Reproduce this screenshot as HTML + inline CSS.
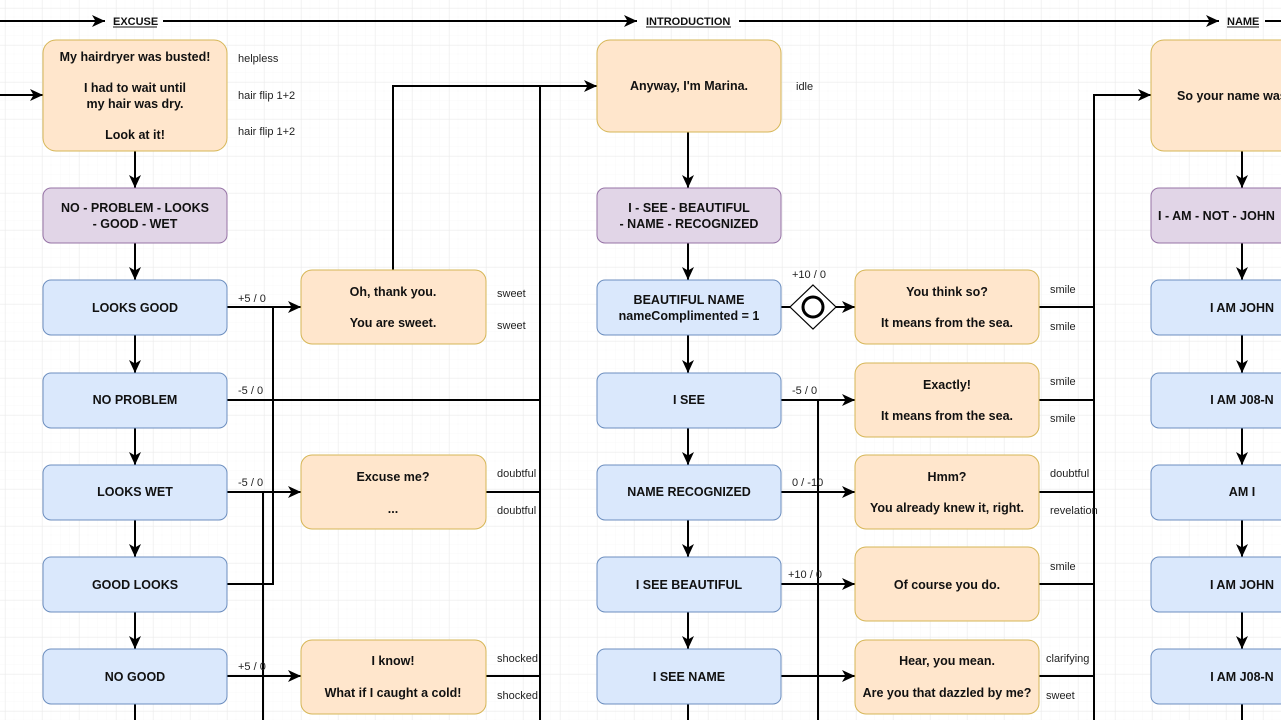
<!DOCTYPE html>
<html><head><meta charset="utf-8">
<style>
html,body{margin:0;padding:0;background:#fff;overflow:hidden}
svg{display:block}
text{font-family:"Liberation Sans",Arial,sans-serif}
.b{font-weight:bold;font-size:12.5px;fill:#111;text-anchor:middle}
.l{font-size:11px;fill:#222}
.lb{font-size:11px;fill:#111;font-weight:bold}
.o{fill:#ffe6cc;stroke:#d6b656;stroke-width:1}
.p{fill:#e1d5e7;stroke:#9673a6;stroke-width:1}
.u{fill:#dae8fc;stroke:#6c8ebf;stroke-width:1}
.c{fill:none;stroke:#000;stroke-width:2}
</style></head><body>
<svg width="1281" height="720" viewBox="0 0 1281 720" xmlns="http://www.w3.org/2000/svg">
<defs>
<pattern id="mi" width="9.25" height="9.25" patternUnits="userSpaceOnUse" x="5" y="8">
<path d="M9.25 0V9.25M0 9.25H9.25" stroke="#f8f8f8" stroke-width="1" fill="none"/></pattern>
<pattern id="ma" width="37" height="37" patternUnits="userSpaceOnUse" x="5" y="8">
<path d="M0 0V37M0 0H37" stroke="#ebebeb" stroke-width="1" fill="none"/></pattern>
<marker id="a" markerWidth="14" markerHeight="12" refX="13" refY="6" orient="auto" markerUnits="userSpaceOnUse">
<path d="M0 0L13 6L0 12L3.5 6Z" fill="#000"/></marker>
</defs>
<rect width="1281" height="720" fill="url(#mi)"/>
<rect width="1281" height="720" fill="url(#ma)"/>

<!-- header -->
<path class="c" d="M0 21H105" marker-end="url(#a)"/>
<path class="c" d="M163 21H637" marker-end="url(#a)"/>
<path class="c" d="M739 21H1219" marker-end="url(#a)"/>
<path class="c" d="M1265 21H1281"/>
<text class="lb" x="113" y="25">EXCUSE</text><path d="M113 27H157" stroke="#111"/>
<text class="lb" x="646" y="25">INTRODUCTION</text><path d="M646 27H731" stroke="#111"/>
<text class="lb" x="1227" y="25">NAME</text><path d="M1227 27H1259" stroke="#111"/>

<!-- connectors -->
<path class="c" d="M0 95H43" marker-end="url(#a)"/>
<path class="c" d="M135 151V188" marker-end="url(#a)"/>
<path class="c" d="M135 243V280" marker-end="url(#a)"/>
<path class="c" d="M135 335V373" marker-end="url(#a)"/>
<path class="c" d="M135 428V465" marker-end="url(#a)"/>
<path class="c" d="M135 520V557" marker-end="url(#a)"/>
<path class="c" d="M135 612V649" marker-end="url(#a)"/>
<path class="c" d="M135 704V720"/>
<path class="c" d="M227 307H301" marker-end="url(#a)"/>
<path class="c" d="M227 584H273V307"/>
<path class="c" d="M227 400H540"/>
<path class="c" d="M227 492H301" marker-end="url(#a)"/>
<path class="c" d="M263 492V720"/>
<path class="c" d="M227 676H301" marker-end="url(#a)"/>
<path class="c" d="M540 720V86"/>
<path class="c" d="M393 270V86H597" marker-end="url(#a)"/>
<path class="c" d="M486 492H540M486 676H540"/>

<path class="c" d="M688 132V188" marker-end="url(#a)"/>
<path class="c" d="M688 243V280" marker-end="url(#a)"/>
<path class="c" d="M688 335V373" marker-end="url(#a)"/>
<path class="c" d="M688 428V465" marker-end="url(#a)"/>
<path class="c" d="M688 520V557" marker-end="url(#a)"/>
<path class="c" d="M688 612V649" marker-end="url(#a)"/>
<path class="c" d="M688 704V720"/>
<path class="c" d="M781 307H790"/>
<path class="c" d="M836 307H855" marker-end="url(#a)"/>
<path d="M813 285L836 307L813 329L790 307Z" fill="#fff" stroke="#000" stroke-width="1.2"/>
<circle cx="813" cy="307" r="10" fill="none" stroke="#000" stroke-width="3"/>
<path class="c" d="M781 400H855" marker-end="url(#a)"/>
<path class="c" d="M818 400V720"/>
<path class="c" d="M781 492H855" marker-end="url(#a)"/>
<path class="c" d="M781 584H855" marker-end="url(#a)"/>
<path class="c" d="M781 676H855" marker-end="url(#a)"/>
<path class="c" d="M1039 307H1094M1039 400H1094M1039 492H1094M1039 584H1094M1039 676H1094"/>
<path class="c" d="M1094 720V95H1151" marker-end="url(#a)"/>

<path class="c" d="M1242 151V188" marker-end="url(#a)"/>
<path class="c" d="M1242 243V280" marker-end="url(#a)"/>
<path class="c" d="M1242 335V373" marker-end="url(#a)"/>
<path class="c" d="M1242 428V465" marker-end="url(#a)"/>
<path class="c" d="M1242 520V557" marker-end="url(#a)"/>
<path class="c" d="M1242 612V649" marker-end="url(#a)"/>
<path class="c" d="M1242 704V720"/>

<!-- left column -->
<rect class="o" x="43" y="40" width="184" height="111" rx="13"/>
<text class="b" x="135" y="61">My hairdryer was busted!</text>
<text class="b" x="135" y="92">I had to wait until</text>
<text class="b" x="135" y="108">my hair was dry.</text>
<text class="b" x="135" y="139">Look at it!</text>
<rect class="p" x="43" y="188" width="184" height="55" rx="8"/>
<text class="b" x="135" y="212">NO - PROBLEM - LOOKS</text>
<text class="b" x="135" y="228">- GOOD - WET</text>
<rect class="u" x="43" y="280" width="184" height="55" rx="8"/><text class="b" x="135" y="312">LOOKS GOOD</text>
<rect class="u" x="43" y="373" width="184" height="55" rx="8"/><text class="b" x="135" y="404">NO PROBLEM</text>
<rect class="u" x="43" y="465" width="184" height="55" rx="8"/><text class="b" x="135" y="496">LOOKS WET</text>
<rect class="u" x="43" y="557" width="184" height="55" rx="8"/><text class="b" x="135" y="589">GOOD LOOKS</text>
<rect class="u" x="43" y="649" width="184" height="55" rx="8"/><text class="b" x="135" y="681">NO GOOD</text>
<text class="l" x="238" y="62">helpless</text>
<text class="l" x="238" y="99">hair flip 1+2</text>
<text class="l" x="238" y="135">hair flip 1+2</text>
<text class="l" x="238" y="302">+5 / 0</text>
<text class="l" x="238" y="394">-5 / 0</text>
<text class="l" x="238" y="486">-5 / 0</text>
<text class="l" x="238" y="670">+5 / 0</text>

<rect class="o" x="301" y="270" width="185" height="74" rx="11"/>
<text class="b" x="393" y="296">Oh, thank you.</text>
<text class="b" x="393" y="327">You are sweet.</text>
<rect class="o" x="301" y="455" width="185" height="74" rx="11"/>
<text class="b" x="393" y="481">Excuse me?</text>
<text class="b" x="393" y="513">...</text>
<rect class="o" x="301" y="640" width="185" height="74" rx="11"/>
<text class="b" x="393" y="665">I know!</text>
<text class="b" x="393" y="697">What if I caught a cold!</text>
<text class="l" x="497" y="297">sweet</text>
<text class="l" x="497" y="329">sweet</text>
<text class="l" x="497" y="477">doubtful</text>
<text class="l" x="497" y="514">doubtful</text>
<text class="l" x="497" y="662">shocked</text>
<text class="l" x="497" y="699">shocked</text>

<!-- middle column -->
<rect class="o" x="597" y="40" width="184" height="92" rx="13"/>
<text class="b" x="689" y="90">Anyway, I'm Marina.</text>
<text class="l" x="796" y="90">idle</text>
<rect class="p" x="597" y="188" width="184" height="55" rx="8"/>
<text class="b" x="689" y="212">I - SEE - BEAUTIFUL</text>
<text class="b" x="689" y="228">- NAME - RECOGNIZED</text>
<rect class="u" x="597" y="280" width="184" height="55" rx="8"/>
<text class="b" x="689" y="304">BEAUTIFUL NAME</text>
<text class="b" x="689" y="320">nameComplimented = 1</text>
<rect class="u" x="597" y="373" width="184" height="55" rx="8"/><text class="b" x="689" y="404">I SEE</text>
<rect class="u" x="597" y="465" width="184" height="55" rx="8"/><text class="b" x="689" y="496">NAME RECOGNIZED</text>
<rect class="u" x="597" y="557" width="184" height="55" rx="8"/><text class="b" x="689" y="589">I SEE BEAUTIFUL</text>
<rect class="u" x="597" y="649" width="184" height="55" rx="8"/><text class="b" x="689" y="681">I SEE NAME</text>
<text class="l" x="792" y="278">+10 / 0</text>
<text class="l" x="792" y="394">-5 / 0</text>
<text class="l" x="792" y="486">0 / -10</text>
<text class="l" x="788" y="578">+10 / 0</text>

<rect class="o" x="855" y="270" width="184" height="74" rx="11"/>
<text class="b" x="947" y="296">You think so?</text>
<text class="b" x="947" y="327">It means from the sea.</text>
<rect class="o" x="855" y="363" width="184" height="74" rx="11"/>
<text class="b" x="947" y="389">Exactly!</text>
<text class="b" x="947" y="420">It means from the sea.</text>
<rect class="o" x="855" y="455" width="184" height="74" rx="11"/>
<text class="b" x="947" y="481">Hmm?</text>
<text class="b" x="947" y="512">You already knew it, right.</text>
<rect class="o" x="855" y="547" width="184" height="74" rx="11"/>
<text class="b" x="947" y="589">Of course you do.</text>
<rect class="o" x="855" y="640" width="184" height="74" rx="11"/>
<text class="b" x="947" y="665">Hear, you mean.</text>
<text class="b" x="947" y="697">Are you that dazzled by me?</text>
<text class="l" x="1050" y="293">smile</text>
<text class="l" x="1050" y="330">smile</text>
<text class="l" x="1050" y="385">smile</text>
<text class="l" x="1050" y="422">smile</text>
<text class="l" x="1050" y="477">doubtful</text>
<text class="l" x="1050" y="514">revelation</text>
<text class="l" x="1050" y="570">smile</text>
<text class="l" x="1046" y="662">clarifying</text>
<text class="l" x="1046" y="699">sweet</text>

<!-- right column -->
<rect class="o" x="1151" y="40" width="184" height="111" rx="13"/>
<text class="b" x="1177" y="100" style="text-anchor:start">So your name was ...</text>
<rect class="p" x="1151" y="188" width="184" height="55" rx="8"/>
<text class="b" x="1158" y="220" style="text-anchor:start">I - AM - NOT - JOHN</text>
<rect class="u" x="1151" y="280" width="184" height="55" rx="8"/><text class="b" x="1242" y="312">I AM JOHN</text>
<rect class="u" x="1151" y="373" width="184" height="55" rx="8"/><text class="b" x="1242" y="404">I AM J08-N</text>
<rect class="u" x="1151" y="465" width="184" height="55" rx="8"/><text class="b" x="1242" y="496">AM I</text>
<rect class="u" x="1151" y="557" width="184" height="55" rx="8"/><text class="b" x="1242" y="589">I AM JOHN</text>
<rect class="u" x="1151" y="649" width="184" height="55" rx="8"/><text class="b" x="1242" y="681">I AM J08-N</text>
</svg>
</body></html>
